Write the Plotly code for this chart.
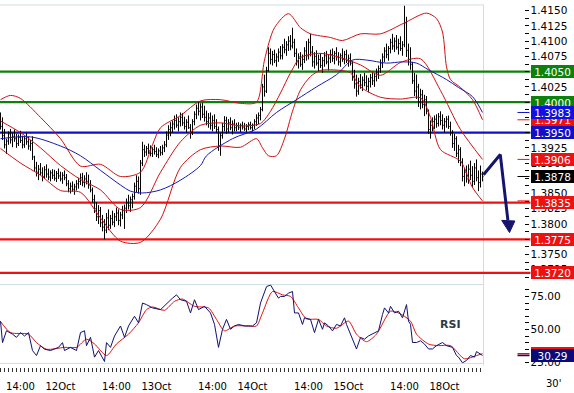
import plotly.graph_objects as go

# ---------------- data (30-minute bars) ----------------
opens = [1.3970,1.3960,1.3945,1.3930,1.3936,1.3948,1.3938,1.3944,1.3940,1.3932,
1.3942,1.3937,1.3930,1.3940,1.3935,1.3928,1.3932,1.3910,1.3892,1.3885,
1.3890,1.3884,1.3878,1.3889,1.3882,1.3877,1.3884,1.3880,1.3875,1.3883,
1.3879,1.3874,1.3880,1.3876,1.3866,1.3858,1.3862,1.3857,1.3861,1.3866,
1.3870,1.3876,1.3868,1.3874,1.3870,1.3864,1.3856,1.3840,1.3825,1.3812,
1.3822,1.3802,1.3795,1.3790,1.3810,1.3798,1.3809,1.3803,1.3812,1.3818,
1.3806,1.3815,1.3822,1.3826,1.3835,1.3830,1.3840,1.3845,1.3862,1.3870,
1.3858,1.3900,1.3922,1.3918,1.3924,1.3920,1.3916,1.3922,1.3919,1.3914,
1.3920,1.3917,1.3925,1.3930,1.3946,1.3955,1.3958,1.3964,1.3970,1.3962,
1.3968,1.3975,1.3966,1.3960,1.3967,1.3958,1.3950,1.3968,1.3980,1.3990,
1.3985,1.3992,1.3980,1.3975,1.3968,1.3974,1.3962,1.3970,1.3960,1.3955,
1.3928,1.3945,1.3960,1.3970,1.3956,1.3966,1.3958,1.3964,1.3958,1.3961,
1.3958,1.3962,1.3959,1.3956,1.3960,1.3963,1.3958,1.3962,1.3968,1.3974,
1.3978,1.3988,1.4025,1.4018,1.4052,1.4080,1.4070,1.4078,1.4068,1.4074,
1.4082,1.4076,1.4090,1.4086,1.4094,1.4100,1.4092,1.4098,1.4080,1.4066,
1.4074,1.4062,1.4070,1.4084,1.4076,1.4098,1.4082,1.4066,1.4075,1.4064,
1.4070,1.4060,1.4068,1.4076,1.4066,1.4072,1.4078,1.4072,1.4080,1.4074,
1.4066,1.4076,1.4070,1.4078,1.4068,1.4072,1.4064,1.4040,1.4030,1.4018,
1.4034,1.4028,1.4036,1.4032,1.4026,1.4034,1.4040,1.4035,1.4042,1.4048,
1.4055,1.4064,1.4074,1.4084,1.4078,1.4088,1.4098,1.4092,1.4100,1.4090,
1.4096,1.4088,1.4094,1.4130,1.4085,1.4070,1.4062,1.4035,1.4018,1.4025,
1.4000,1.4012,1.3996,1.4004,1.3985,1.3955,1.3962,1.3968,1.3972,1.3965,
1.3976,1.3970,1.3962,1.3968,1.3972,1.3960,1.3950,1.3932,1.3940,1.3916,
1.3922,1.3902,1.3878,1.3885,1.3874,1.3890,1.3880,1.3870,1.3892,1.3876,
1.3868,1.3882]

highs = [1.3983,1.3975,1.3956,1.3940,1.3952,1.3956,1.3950,1.3955,1.3948,1.3947,
1.3953,1.3945,1.3944,1.3950,1.3943,1.3938,1.3944,1.3912,1.3902,1.3897,
1.3900,1.3893,1.3895,1.3898,1.3891,1.3888,1.3890,1.3889,1.3887,1.3891,
1.3886,1.3885,1.3888,1.3882,1.3872,1.3868,1.3870,1.3866,1.3872,1.3876,
1.3883,1.3884,1.3880,1.3885,1.3881,1.3872,1.3860,1.3848,1.3836,1.3831,
1.3828,1.3815,1.3808,1.3818,1.3824,1.3815,1.3822,1.3818,1.3827,1.3824,
1.3820,1.3830,1.3832,1.3842,1.3848,1.3845,1.3850,1.3868,1.3880,1.3878,
1.3905,1.3935,1.3930,1.3928,1.3932,1.3929,1.3926,1.3930,1.3926,1.3924,
1.3928,1.3930,1.3936,1.3952,1.3962,1.3967,1.3970,1.3978,1.3980,1.3975,
1.3983,1.3982,1.3976,1.3972,1.3978,1.3964,1.3972,1.3985,1.3996,1.4001,
1.3998,1.3999,1.3994,1.3986,1.3982,1.3983,1.3978,1.3980,1.3972,1.3960,
1.3950,1.3966,1.3977,1.3976,1.3972,1.3975,1.3970,1.3972,1.3966,1.3967,
1.3965,1.3968,1.3966,1.3964,1.3967,1.3968,1.3965,1.3972,1.3980,1.3983,
1.3992,1.4030,1.4045,1.4058,1.4090,1.4088,1.4084,1.4086,1.4080,1.4088,
1.4092,1.4095,1.4104,1.4100,1.4108,1.4110,1.4122,1.4104,1.4088,1.4080,
1.4082,1.4078,1.4090,1.4100,1.4104,1.4112,1.4092,1.4082,1.4085,1.4078,
1.4080,1.4074,1.4082,1.4084,1.4078,1.4086,1.4088,1.4084,1.4090,1.4082,
1.4080,1.4088,1.4084,1.4086,1.4078,1.4080,1.4068,1.4053,1.4045,1.4040,
1.4046,1.4042,1.4048,1.4044,1.4040,1.4046,1.4050,1.4048,1.4055,1.4060,
1.4070,1.4080,1.4090,1.4096,1.4092,1.4104,1.4112,1.4106,1.4110,1.4104,
1.4108,1.4100,1.4158,1.4140,1.4096,1.4090,1.4066,1.4048,1.4045,1.4030,
1.4022,1.4020,1.4012,1.4010,1.3988,1.3970,1.3975,1.3978,1.3980,1.3982,
1.3985,1.3980,1.3974,1.3977,1.3978,1.3968,1.3954,1.3948,1.3944,1.3930,
1.3926,1.3908,1.3892,1.3896,1.3898,1.3904,1.3895,1.3900,1.3906,1.3888,
1.3896,1.3886]

lows = [1.3955,1.3938,1.3924,1.3915,1.3930,1.3932,1.3926,1.3935,1.3925,1.3928,
1.3933,1.3924,1.3925,1.3930,1.3922,1.3920,1.3905,1.3886,1.3878,1.3872,
1.3880,1.3870,1.3874,1.3876,1.3872,1.3870,1.3874,1.3871,1.3869,1.3874,
1.3870,1.3866,1.3872,1.3862,1.3852,1.3850,1.3853,1.3848,1.3855,1.3858,
1.3864,1.3862,1.3860,1.3865,1.3858,1.3852,1.3835,1.3818,1.3805,1.3800,
1.3795,1.3788,1.3775,1.3785,1.3790,1.3792,1.3798,1.3795,1.3805,1.3798,
1.3796,1.3808,1.3792,1.3818,1.3824,1.3820,1.3826,1.3840,1.3852,1.3850,
1.3848,1.3895,1.3910,1.3912,1.3915,1.3911,1.3910,1.3914,1.3910,1.3908,
1.3912,1.3913,1.3918,1.3926,1.3938,1.3944,1.3950,1.3955,1.3958,1.3952,
1.3960,1.3961,1.3955,1.3950,1.3956,1.3940,1.3946,1.3962,1.3972,1.3978,
1.3970,1.3974,1.3968,1.3962,1.3958,1.3955,1.3952,1.3956,1.3950,1.3920,
1.3912,1.3940,1.3952,1.3948,1.3950,1.3954,1.3947,1.3952,1.3952,1.3954,
1.3951,1.3955,1.3953,1.3950,1.3954,1.3955,1.3952,1.3956,1.3961,1.3964,
1.3970,1.3985,1.4009,1.4015,1.4050,1.4062,1.4060,1.4064,1.4058,1.4066,
1.4070,1.4070,1.4080,1.4076,1.4084,1.4085,1.4088,1.4074,1.4060,1.4055,
1.4058,1.4053,1.4064,1.4068,1.4070,1.4075,1.4058,1.4055,1.4060,1.4050,
1.4056,1.4048,1.4058,1.4062,1.4052,1.4064,1.4066,1.4062,1.4068,1.4060,
1.4058,1.4066,1.4062,1.4064,1.4058,1.4060,1.4035,1.4022,1.4009,1.4012,
1.4022,1.4018,1.4026,1.4020,1.4016,1.4024,1.4028,1.4025,1.4034,1.4038,
1.4048,1.4056,1.4066,1.4072,1.4068,1.4080,1.4086,1.4082,1.4086,1.4078,
1.4084,1.4076,1.4090,1.4074,1.4060,1.4053,1.4030,1.4010,1.4005,1.3992,
1.3988,1.3990,1.3977,1.3980,1.3948,1.3940,1.3952,1.3956,1.3958,1.3960,
1.3962,1.3955,1.3950,1.3958,1.3956,1.3945,1.3925,1.3920,1.3910,1.3900,
1.3895,1.3870,1.3862,1.3868,1.3866,1.3872,1.3860,1.3864,1.3870,1.3854,
1.3860,1.3870]

closes = [1.3960,1.3945,1.3930,1.3936,1.3948,1.3938,1.3944,1.3940,1.3932,1.3942,
1.3937,1.3930,1.3940,1.3935,1.3928,1.3932,1.3910,1.3892,1.3885,1.3890,
1.3884,1.3878,1.3889,1.3882,1.3877,1.3884,1.3880,1.3875,1.3883,1.3879,
1.3874,1.3880,1.3876,1.3866,1.3858,1.3862,1.3857,1.3861,1.3866,1.3870,
1.3876,1.3868,1.3874,1.3870,1.3864,1.3856,1.3840,1.3825,1.3812,1.3822,
1.3802,1.3795,1.3790,1.3810,1.3798,1.3809,1.3803,1.3812,1.3818,1.3806,
1.3815,1.3822,1.3826,1.3835,1.3830,1.3840,1.3845,1.3862,1.3870,1.3858,
1.3900,1.3922,1.3918,1.3924,1.3920,1.3916,1.3922,1.3919,1.3914,1.3920,
1.3917,1.3925,1.3930,1.3946,1.3955,1.3958,1.3964,1.3970,1.3962,1.3968,
1.3975,1.3966,1.3960,1.3967,1.3958,1.3950,1.3968,1.3980,1.3990,1.3985,
1.3992,1.3980,1.3975,1.3968,1.3974,1.3962,1.3970,1.3960,1.3955,1.3928,
1.3945,1.3960,1.3970,1.3956,1.3966,1.3958,1.3964,1.3958,1.3961,1.3958,
1.3962,1.3959,1.3956,1.3960,1.3963,1.3958,1.3962,1.3968,1.3974,1.3978,
1.3988,1.4025,1.4018,1.4052,1.4080,1.4070,1.4078,1.4068,1.4074,1.4082,
1.4076,1.4090,1.4086,1.4094,1.4100,1.4092,1.4098,1.4080,1.4066,1.4074,
1.4062,1.4070,1.4084,1.4076,1.4098,1.4082,1.4066,1.4075,1.4064,1.4070,
1.4060,1.4068,1.4076,1.4066,1.4072,1.4078,1.4072,1.4080,1.4074,1.4066,
1.4076,1.4070,1.4078,1.4068,1.4072,1.4064,1.4040,1.4030,1.4018,1.4034,
1.4028,1.4036,1.4032,1.4026,1.4034,1.4040,1.4035,1.4042,1.4048,1.4055,
1.4064,1.4074,1.4084,1.4078,1.4088,1.4098,1.4092,1.4100,1.4090,1.4096,
1.4088,1.4094,1.4130,1.4085,1.4070,1.4062,1.4035,1.4018,1.4025,1.4000,
1.4012,1.3996,1.4004,1.3985,1.3955,1.3962,1.3968,1.3972,1.3965,1.3976,
1.3970,1.3962,1.3968,1.3972,1.3960,1.3950,1.3932,1.3940,1.3916,1.3922,
1.3902,1.3878,1.3885,1.3874,1.3890,1.3880,1.3870,1.3892,1.3876,1.3868,
1.3882,1.3878]

# Bollinger bands (20) and moving average, read at sample bars
upper_idx = [0, 5, 10, 20, 30, 40, 50, 60, 70, 76, 80, 90, 100, 110, 120, 128, 132, 137,
             144, 150, 155, 165, 171, 180, 190, 202, 213, 218, 221, 223, 225, 230, 236, 241]
band_upper = [1.4004, 1.4011, 1.4006, 1.3975, 1.3940, 1.3895, 1.3898, 1.3878, 1.3885,
              1.3930, 1.3958, 1.3978, 1.4002, 1.4004, 1.3998, 1.4000, 1.4069, 1.4122,
              1.4145, 1.4122, 1.4112, 1.4106, 1.4101, 1.4112, 1.4112, 1.4130, 1.4146,
              1.4137, 1.4115, 1.4058, 1.4037, 1.4024, 1.4004, 1.3971]
mid_idx = [0, 10, 20, 30, 40, 50, 60, 70, 80, 90, 100, 110, 120, 130, 135, 140, 145, 150,
           160, 170, 180, 190, 200, 210, 220, 230, 241]
band_middle = [1.3969, 1.3950, 1.3925, 1.3896, 1.3873, 1.3856, 1.3824, 1.3827, 1.3885,
               1.3935, 1.3962, 1.3966, 1.3961, 1.3965, 1.3985, 1.4015, 1.4048, 1.4073,
               1.4080, 1.4073, 1.4061, 1.4044, 1.4065, 1.4071, 1.4019, 1.3955, 1.3906]
lower_idx = [0, 10, 20, 30, 40, 50, 60, 70, 80, 90, 100, 110, 120, 128, 131, 134, 138, 142,
             146, 150, 155, 160, 170, 175, 180, 190, 200, 210, 215, 220, 230, 236, 241]
band_lower = [1.3924, 1.3900, 1.3880, 1.3855, 1.3852, 1.3810, 1.3772, 1.3770, 1.3808,
              1.3893, 1.3922, 1.3928, 1.3926, 1.3940, 1.3925, 1.3912, 1.3912, 1.3940,
              1.3985, 1.4020, 1.4042, 1.4052, 1.4052, 1.4048, 1.4025, 1.4008, 1.4005,
              1.4007, 1.3975, 1.3922, 1.3903, 1.3860, 1.3838]

ma_idx = [0, 15, 30, 40, 50, 60, 65, 71, 80, 90, 100, 103, 116, 128, 138, 148, 158,
          168, 176, 183, 193, 201, 208, 214, 223, 229, 236, 241]
ma_vals = [1.3940, 1.3943, 1.3928, 1.3912, 1.3888, 1.3864, 1.3854, 1.3851, 1.3856,
           1.3872, 1.3896, 1.3912, 1.3940, 1.3956, 1.3983, 1.4004, 1.4025, 1.4045,
           1.4069, 1.4069, 1.4064, 1.4066, 1.4064, 1.4053, 1.4037, 1.4024, 1.4009, 1.3983]

# RSI and its signal line
rsi_idx = [0,1,3,6,8,10,12,14,16,18,20,22,25,29,31,32,35,38,40,42,43,45,47,49,52,53,55,
           57,60,62,64,67,69,71,73,76,80,84,86,88,90,93,95,97,99,102,105,107,109,111,113,
           115,117,119,122,126,128,130,131,133,135,137,139,140,142,144,146,147,149,151,152,
           155,157,159,161,162,164,166,168,170,172,173,175,178,180,182,184,186,189,191,192,
           194,195,197,199,201,203,204,205,206,208,210,212,214,216,218,221,223,226,228,229,
           231,233,235,237,238,240,241]
rsi_vals = [56.3,40,49,46.4,44,47.6,45,47.6,34,30.2,37.7,35,34,36.4,40,34,36.4,34,47.6,49,
            37.7,44,29,34,25.7,40,36.4,45,52.6,44,52.6,60,55,70,68.8,66.3,65,71.3,73.7,76.2,
            72.5,71.3,62.5,72.5,65,67.5,62.5,53.8,36.4,50.1,57.6,50.1,52.6,53.8,52.6,52.6,
            55,70,73.7,82.4,83.7,78.7,73.7,75,75,77.5,78.7,62.5,62.5,53.8,58.8,57.6,47.6,
            57.6,50.1,55,52.6,48.9,53.8,52.6,58.8,53.8,46.4,35.2,43.9,42.6,45.1,46.4,48.9,
            61.3,66.3,62.5,67.5,62.5,63.8,58.8,68.8,56.3,53.8,40.1,40.1,41.4,38.9,35.2,35.2,
            37.7,40.1,37.7,36.4,30.2,29,24.7,26.5,30.2,29,33.2,31.5,30.29]
sig_idx = [0,5,14,18,23,32,38,43,47,53,58,64,69,73,76,82,87,91,97,104,108,112,117,124,128,
           131,136,141,145,149,153,159,163,168,174,178,183,188,195,199,205,208,214,219,225,
           232,238,241]
sig_vals = [56,47.6,46.4,40,35,36.4,36.4,42.6,39,30.2,39,46.4,55,65,67,64.5,71.3,73,67.5,
            66.3,57.6,48.9,52.6,52.6,52.6,62.5,78.7,76.2,75,66.3,58,57.6,52.6,50.9,56.3,46.4,
            40.7,46.4,63.8,62.5,56.3,46.4,38.9,37.7,37.7,27.7,30.2,31.6]

# Support / resistance levels
level_vals = [1.4050, 1.4000, 1.3950, 1.3835, 1.3775, 1.3720]
level_cols = ['#0b820b', '#0b820b', '#1010c8', '#ee1111', '#ee1111', '#ee1111']

# Time axis labels (bar index -> text)
label_idx = [10, 30, 58, 78, 106, 126, 154, 174, 202, 222]
label_txt = ['14:00', '12Oct', '14:00', '13Oct', '14:00', '14Oct', '14:00', '15Oct', '14:00', '18Oct']

# Forecast arrow (bar index, price)
arrow_x = [241.5, 249.9, 253.7]
arrow_y = [1.3881, 1.3914, 1.3806]
head_x = [250.6, 257.2, 254.5, 250.6]
head_y = [1.3806, 1.3805, 1.3786, 1.3806]

# ---------------- figure ----------------
FONT = 'DejaVu Sans'
W, H = 574, 393
px = lambda yy: (H - yy) / H           # pixel row -> paper y
X0, X1 = -0.25, 286.75                  # x-range (bars), 2px per bar
BORDER = '#cfdce6'
RED = '#d01010'

bar_x = list(range(len(closes)))

fig = go.Figure()

for ix, vals in [(upper_idx, band_upper), (mid_idx, band_middle), (lower_idx, band_lower)]:
    fig.add_trace(go.Scatter(x=ix, y=vals, mode='lines',
                             line=dict(color=RED, width=1, shape='spline', smoothing=0.8),
                             hoverinfo='skip'))
fig.add_trace(go.Scatter(x=ma_idx, y=ma_vals, mode='lines',
                         line=dict(color='#1818b0', width=1, shape='spline', smoothing=0.9),
                         hoverinfo='skip'))

fig.add_trace(go.Ohlc(x=bar_x, open=opens, high=highs, low=lows, close=closes,
                      increasing=dict(line=dict(color='black', width=1)),
                      decreasing=dict(line=dict(color='black', width=1)),
                      tickwidth=0.45, hoverinfo='skip'))

# arrow
fig.add_trace(go.Scatter(x=arrow_x, y=arrow_y, mode='lines',
                         line=dict(color='#15156e', width=3), hoverinfo='skip'))
fig.add_trace(go.Scatter(x=head_x, y=head_y, mode='lines', fill='toself',
                         fillcolor='#15156e', line=dict(color='#15156e', width=1),
                         hoverinfo='skip'))

# RSI panel
fig.add_trace(go.Scatter(x=sig_idx, y=sig_vals, mode='lines', yaxis='y2',
                         line=dict(color='#dd1111', width=1, shape='spline', smoothing=0.7),
                         hoverinfo='skip'))
fig.add_trace(go.Scatter(x=rsi_idx, y=rsi_vals, mode='lines', yaxis='y2',
                         line=dict(color='#101070', width=1), hoverinfo='skip'))

shapes = []
# level lines (below bars)
for v, c in zip(level_vals, level_cols):
    shapes.append(dict(type='line', xref='x', yref='y', x0=X0, x1=265, y0=v, y1=v,
                       line=dict(color=c, width=2.2), layer='below'))
# borders
shapes.append(dict(type='line', xref='x', yref='paper', x0=X0, x1=241.5,
                   y0=px(4), y1=px(4), line=dict(color=BORDER, width=1), layer='below'))
shapes.append(dict(type='line', xref='x', yref='paper', x0=241.5, x1=241.5,
                   y0=px(4), y1=px(370), line=dict(color=BORDER, width=1), layer='below'))
shapes.append(dict(type='line', xref='x', yref='paper', x0=X0, x1=241.5,
                   y0=px(288), y1=px(288), line=dict(color=BORDER, width=1), layer='below'))
shapes.append(dict(type='line', xref='x', yref='paper', x0=X0, x1=241.5,
                   y0=px(368), y1=px(368), line=dict(color=BORDER, width=1), layer='below'))
# last-value markers beside the scale
for v, c in [(ma_vals[-1], '#1010c8'), (band_upper[-1], '#ee1111'),
             (band_middle[-1], '#ee1111'), (closes[-1], 'black'), (band_lower[-1], '#ee1111')]:
    shapes.append(dict(type='line', xref='x', yref='y', x0=258.5, x1=264.5, y0=v, y1=v,
                       line=dict(color=c, width=1)))
for v, c in [(sig_vals[-1], '#dd1111'), (rsi_vals[-1], '#101070')]:
    shapes.append(dict(type='line', xref='x', yref='y2', x0=258.5, x1=264.5, y0=v, y1=v,
                       line=dict(color=c, width=1.5)))

annotations = []


def box(v, col, yref='y', fmt='{:.4f}'):
    return dict(x=1, xref='paper', xanchor='right', y=v, yref=yref, yanchor='middle',
                text=fmt.format(v), showarrow=False, bgcolor=col, borderwidth=0,
                borderpad=1, width=41, height=11, align='center',
                font=dict(family=FONT, size=10.5, color='white'))


for v, c in zip(level_vals, level_cols):
    annotations.append(box(v, c))
annotations.append(box(band_upper[-1], '#ee1111'))
annotations.append(box(ma_vals[-1], '#1010e0'))
annotations.append(box(band_middle[-1], '#ee1111'))
annotations.append(box(closes[-1], 'black'))
annotations.append(box(sig_vals[-1], '#ee1111', 'y2', '{:.2f}'))
annotations.append(box(rsi_vals[-1], '#0a0a78', 'y2', '{:.2f}'))

annotations.append(dict(x=225, y=54, xref='x', yref='y2', text='<b>RSI</b>', showarrow=False,
                        font=dict(family=FONT, size=11, color='#2e3a48')))
annotations.append(dict(x=553 / W, y=px(388), xref='paper', yref='paper', text="30'",
                        xanchor='center', yanchor='middle', showarrow=False,
                        font=dict(family=FONT, size=10, color='black')))

tick_vals = list(range(0, 241, 2))
tick_text = [label_txt[label_idx.index(t)] if t in label_idx else '' for t in tick_vals]

tickfont = dict(family=FONT, size=10.5, color='black')

fig.update_layout(
    width=W, height=H, margin=dict(l=0, r=0, t=0, b=0),
    paper_bgcolor='white', plot_bgcolor='white', showlegend=False,
    xaxis=dict(domain=[0, 1], range=[X0, X1], anchor='free', position=px(371.5),
               showgrid=False, zeroline=False, showline=False,
               tickmode='array', tickvals=tick_vals, ticktext=tick_text,
               ticks='outside', ticklen=4, tickwidth=1, tickcolor='#333333',
               ticklabelstandoff=6,
               tickfont=dict(family=FONT, size=10, color='black'),
               rangeslider=dict(visible=False)),
    yaxis=dict(domain=[px(286), px(4)], range=[1.37039, 1.41594], anchor='free',
               position=523.5 / W, side='right', tickmode='linear', tick0=1.37, dtick=0.0025,
               tickformat='.4f', ticks='outside', ticklen=4, tickcolor='black',
               showgrid=False, zeroline=False, showline=False, tickfont=tickfont,
               minor=dict(dtick=0.00125, tick0=1.37, ticks='outside', ticklen=4,
                          tickcolor='black', showgrid=False)),
    yaxis2=dict(domain=[px(368), px(288)], range=[24.27, 83.96], anchor='free',
                position=523.5 / W, side='right', tickmode='array', tickvals=[25, 50, 75],
                tickformat='.2f', ticks='outside', ticklen=4, tickcolor='black',
                showgrid=False, zeroline=False, showline=False, tickfont=tickfont,
                minor=dict(dtick=5, tick0=0, ticks='outside', ticklen=4,
                           tickcolor='black', showgrid=False)),
    shapes=shapes, annotations=annotations,
)

fig.write_html('out.html')
